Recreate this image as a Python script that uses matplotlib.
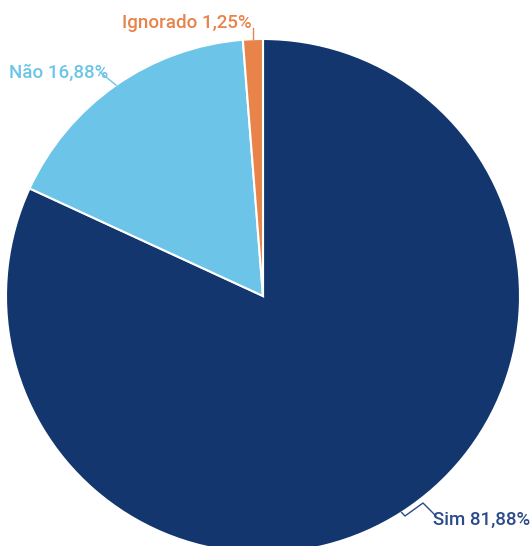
import numpy as np
import matplotlib
matplotlib.use("Agg")
import matplotlib.pyplot as plt

labels = ["Sim", "Não", "Ignorado"]
values = [81.88, 16.88, 1.25]
colors = ["#14366f", "#6cc5e8", "#e8834a"]
text_colors = ["#2b4a8a", "#6cc5e8", "#e8834a"]

W, H = 531, 546
fig = plt.figure(figsize=(W / 100, H / 100), dpi=100)
ax = fig.add_axes([0, 0, 1, 1])

cx, cy, R = 263, 250, 257
wedges, _ = ax.pie(values, colors=colors, startangle=90, counterclock=False,
                   center=(cx, cy), radius=R, frame=True,
                   wedgeprops=dict(edgecolor="white", linewidth=1.5))
ax.set_xlim(0, W)
ax.set_ylim(0, H)
ax.axis("off")

font = dict(family=["Roboto", "DejaVu Sans"], fontsize=13.5, fontweight="medium")

def edge_point(w):
    mid = np.deg2rad((w.theta1 + w.theta2) / 2)
    return cx + R * np.cos(mid), cy + R * np.sin(mid)

# Sim
x0, y0 = edge_point(wedges[0])
ax.plot([x0, 405, 423, 435], [y0, 30, 43, 31], color=text_colors[0], lw=1, clip_on=False)
ax.text(433, 21, f"{labels[0]} 81,88%", color=text_colors[0], ha="left", va="baseline", **font)

# Não
x0, y0 = edge_point(wedges[1])
ax.plot([x0, 100], [y0, 474], color=text_colors[1], lw=1)
ax.text(108, 468, f"{labels[1]} 16,88%", color=text_colors[1], ha="right", va="baseline", **font)

# Ignorado
x0, y0 = edge_point(wedges[2])
ax.plot([x0, x0], [y0, 518], color=text_colors[2], lw=1)
ax.text(252, 518, f"{labels[2]} 1,25%", color=text_colors[2], ha="right", va="baseline", **font)

fig.savefig("out.png", dpi=100)
